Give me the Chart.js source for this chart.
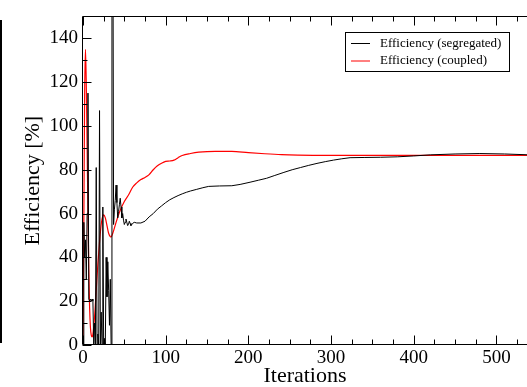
<!DOCTYPE html>
<html>
<head>
<meta charset="utf-8">
<script src="https://cdn.jsdelivr.net/npm/chart.js@4.4.1/dist/chart.umd.min.js"></script>
<style>
  html, body { margin: 0; padding: 0; background: #fff; overflow: hidden; }
  #wrap { position: relative; width: 527px; height: 387px; }
  #edge { position: absolute; left: 0; top: 20px; width: 2px; height: 323px; background: #000; }
</style>
</head>
<body>
<div id="wrap">
  <canvas id="chart" width="527" height="387"></canvas>
  <div id="edge"></div>
</div>
<script>
// data
const segIter = [0,1,2,3,4,5,6,7,8,9,10,11,12,13,14,15,16,17,18,19,20,21,22,23,24,25,26,27,28,29,30,31,32,33,34,35,36,37,38,39,40,41,42,43,44,45,46,47,48,49,50,51,52,53,54,55,56,57,58,60,62,65,70,75,80,85,90,95,100,105,110,115,120,125,130,137,145,152,165,180,190,202,212,222,232,243,253,263,273,283,293,303,313,323,340,360,380,400,420,450,480,510,540];
const segEff = [0,56,40,48,30,60,115,21,20,21,20,21,20,0,10,0,81,0,5,0,107,0,15,0,63,0,3,0,40,22,38,25,9,30,0,220,220,55,62,66,73,65,58,61,64,67,63,58,60,57,55,56,57.5,56,54.5,55,56.5,55.5,54.5,55.5,56,55.7,55.7,56.5,58.5,60,62,63.5,65,66.3,67.3,68.2,69,69.7,70.3,71,71.8,72.4,72.6,72.7,73.3,74.3,75.2,76.1,77.4,78.8,80,81,82,82.9,83.7,84.4,85,85.5,85.6,85.7,85.9,86.3,86.8,87.2,87.4,87.2,86.8];

const coupIter = [0,1,2,3,4,5,6,7,8,9,10,11,12,14,16,18,20,22,24,25,27,29,31,33,34,36,40,45,50,55,60,65,70,75,80,85,90,95,100,105,110,115,120,130,140,160,180,200,220,240,260,300,400,540];
const coupEff = [0,55,115,135,118,90,60,35,17,8,4.5,3.7,5,13,25,37,47,55,59,59.4,58,54.5,51,49.5,49.3,51,56,61.5,65.5,68.5,72,74,75.5,76.5,77.8,80,81.8,83,83.8,84,84.4,85.5,86.5,87.4,88,88.4,88.4,87.8,87.3,86.9,86.7,86.6,86.6,86.6];

const seriesNames = ['Efficiency (segregated)', 'Efficiency (coupled)'];
const seriesColors = ['#000000', '#ff0000'];
const xTicks = [0, 100, 200, 300, 400, 500];
const yTicks = [0, 20, 40, 60, 80, 100, 120, 140];

const serif = 'Liberation Serif';

const toPoints = (xs, ys) => xs.map((v, i) => ({ x: v, y: ys[i] }));

const framePlugin = {
    id: 'frame',
    afterDatasetsDraw(chart) {
        const { ctx, chartArea: a, scales: { x, y } } = chart;
        ctx.save();
        ctx.strokeStyle = '#000';
        ctx.lineWidth = 1;
        const L = Math.round(a.left) - 0.5, T = Math.round(a.top) + 0.5, B = Math.round(a.bottom) - 0.5;
        ctx.beginPath();
        ctx.moveTo(a.right, T); ctx.lineTo(L, T); ctx.lineTo(L, B); ctx.lineTo(a.right, B);
        // x ticks, bottom and top, pointing inwards
        for (let v = 0; v <= x.max; v += 25) {
            const px = Math.round(x.getPixelForValue(v)) + 0.5;
            const len = v % 100 === 0 ? 9 : 5;
            ctx.moveTo(px, B); ctx.lineTo(px, B - len);
            ctx.moveTo(px, T); ctx.lineTo(px, T + len);
        }
        for (let v = 0; v < y.max; v += 10) {
            const py = Math.round(y.getPixelForValue(v)) + 0.5;
            const len = v % 20 === 0 ? 9 : 5;
            ctx.moveTo(L, py); ctx.lineTo(L + len, py);
        }
        ctx.stroke();

        // legend box
        ctx.strokeRect(345.5, 32.5, 164, 39);
        ctx.font = '13px "' + serif + '"';
        ctx.textBaseline = 'middle';
        ctx.fillStyle = '#000';
        chart.data.datasets.forEach((ds, i) => {
            const ly = 43.5 + i * 17.5;
            ctx.strokeStyle = ds.borderColor;
            ctx.beginPath();
            ctx.moveTo(351, ly); ctx.lineTo(370, ly);
            ctx.stroke();
            ctx.fillText(ds.label, 380, ly);
        });
        ctx.restore();
    }
};

new Chart(document.getElementById('chart'), {
    type: 'line',
    data: {
        datasets: [{
            label: seriesNames[0],
            data: toPoints(segIter, segEff),
            borderColor: seriesColors[0],
            borderWidth: 1,
            pointRadius: 0,
            tension: 0
        }, {
            label: seriesNames[1],
            data: toPoints(coupIter, coupEff),
            borderColor: seriesColors[1],
            borderWidth: 1.2,
            pointRadius: 0,
            cubicInterpolationMode: 'monotone'
        }]
    },
    options: {
        responsive: false,
        devicePixelRatio: 1,
        animation: false,
        layout: { padding: { top: 9, right: 0, left: 0, bottom: 0 } },
        plugins: { legend: { display: false }, tooltip: { enabled: false } },
        scales: {
            x: {
                type: 'linear',
                min: 0,
                max: 537,
                afterBuildTicks: s => { s.ticks = xTicks.map(v => ({ value: v })); },
                afterFit: s => { s.height = 42; },
                grid: { display: false, drawTicks: false },
                border: { display: false },
                ticks: { color: '#000', padding: 2, maxRotation: 0, autoSkip: false, font: { family: serif, size: 19 } },
                title: { display: true, text: 'Iterations', color: '#000', font: { family: serif, size: 22, lineHeight: 1 }, padding: { top: 0, bottom: 0 } }
            },
            y: {
                min: 0,
                max: 150,
                afterBuildTicks: s => { s.ticks = yTicks.map(v => ({ value: v })); },
                afterFit: s => { s.width = 83; },
                grid: { display: false, drawTicks: false },
                border: { display: false },
                ticks: { color: '#000', padding: 5, autoSkip: false, font: { family: serif, size: 19 } },
                title: { display: true, text: 'Efficiency [%]', color: '#000', font: { family: serif, size: 22, lineHeight: 1 }, padding: { top: 22, bottom: 0 } }
            }
        }
    },
    plugins: [framePlugin]
});
</script>
</body>
</html>
